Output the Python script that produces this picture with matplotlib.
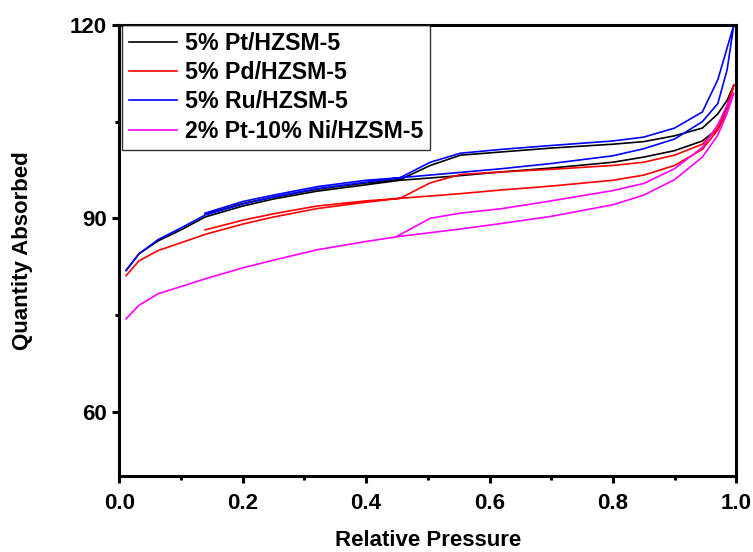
import matplotlib
matplotlib.use("Agg")
import matplotlib.pyplot as plt
from matplotlib.ticker import MultipleLocator

plt.rcParams['font.family'] = ['Liberation Sans', 'DejaVu Sans']
plt.rcParams['font.weight'] = 'bold'

# Relative pressure grids (adsorption up, desorption down)
p_ads = [0.011, 0.032, 0.063, 0.10, 0.139, 0.20, 0.25, 0.32, 0.40, 0.455,
         0.55, 0.62, 0.70, 0.80, 0.85, 0.90, 0.945, 0.97, 0.985, 0.996]
p_des = [0.985, 0.97, 0.945, 0.90, 0.85, 0.80, 0.70, 0.62, 0.553, 0.504,
         0.455, 0.40, 0.32, 0.25, 0.20, 0.139]
p_des_ni = [0.985, 0.97, 0.945, 0.90, 0.85, 0.80, 0.70, 0.62, 0.553, 0.504, 0.45]

labels = ["5% Pt/HZSM-5", "5% Pd/HZSM-5", "5% Ru/HZSM-5", "2% Pt-10% Ni/HZSM-5"]
colors = ["#000000", "#FF0000", "#0000FF", "#FF00FF"]

pt_ads = [81.9, 84.5, 86.5, 88.2, 90.2, 91.9, 93.0, 94.2, 95.2, 95.9,
          96.6, 97.2, 97.8, 98.7, 99.5, 100.5, 102.0, 103.9, 107.3, 110.7]
pt_des = [108.3, 106.2, 104.0, 102.8, 101.9, 101.5, 100.9, 100.3, 99.8, 98.2,
          96.0, 95.5, 94.5, 93.3, 92.3, 90.6]

pd_ads = [81.1, 83.4, 85.0, 86.2, 87.5, 89.1, 90.2, 91.5, 92.5, 93.1,
          93.8, 94.4, 95.0, 95.9, 96.7, 98.2, 100.7, 103.7, 106.5, 110.7]
pd_des = [107.5, 104.0, 101.5, 99.8, 98.7, 98.2, 97.6, 97.2, 96.8, 95.5,
          93.1, 92.7, 91.9, 90.7, 89.7, 88.2]

ru_ads = [81.9, 84.5, 86.7, 88.5, 90.5, 92.2, 93.3, 94.6, 95.6, 96.3,
          97.1, 97.7, 98.5, 99.7, 100.8, 102.3, 105.0, 107.8, 113.0, 120.0]
ru_des = [116.4, 111.5, 106.5, 104.0, 102.6, 102.0, 101.3, 100.7, 100.1, 98.7,
          96.3, 95.9, 94.9, 93.6, 92.6, 90.8]

ni_ads = [74.4, 76.5, 78.3, 79.4, 80.6, 82.3, 83.5, 85.1, 86.4, 87.2,
          88.3, 89.2, 90.3, 92.1, 93.6, 96.0, 99.5, 102.9, 106.3, 109.4]
ni_des = [107.5, 104.5, 101.0, 97.7, 95.4, 94.3, 92.7, 91.5, 90.8, 90.0, 87.2]

series = [
    (p_ads + p_des, pt_ads + pt_des),
    (p_ads + p_des, pd_ads + pd_des),
    (p_ads + p_des, ru_ads + ru_des),
    (p_ads + p_des_ni, ni_ads + ni_des),
]

fig = plt.figure(figsize=(7.53, 5.52), dpi=100)
ax = fig.add_axes([119.3 / 753, 76 / 552, 617 / 753, 451 / 552])

for (xs, ys), lab, c in zip(series, labels, colors):
    ax.plot(xs, ys, color=c, lw=1.2, label=lab)

ax.set_xlim(0, 1.0)
ax.set_ylim(50, 120)
ax.xaxis.set_minor_locator(MultipleLocator(0.1))
ax.yaxis.set_minor_locator(MultipleLocator(15))
ax.set_xticks([0, 0.2, 0.4, 0.6, 0.8, 1.0])
ax.set_xticklabels(["0.0", "0.2", "0.4", "0.6", "0.8", "1.0"])
ax.set_yticks([60, 90, 120])

for s in ax.spines.values():
    s.set_linewidth(2.2)
ax.tick_params(which='major', direction='out', length=5, width=2.2,
               labelsize=16, pad=4)
ax.tick_params(which='minor', direction='out', length=3, width=2.2)
ax.tick_params(axis='x', which='major', pad=7)
for t in ax.get_xticklabels() + ax.get_yticklabels():
    t.set_fontweight('bold')

ax.set_xlabel("Relative Pressure", fontsize=16, fontweight='bold')
ax.set_ylabel("Quantity Absorbed", fontsize=16, fontweight='bold')
ax.xaxis.label.set_va('center')
ax.yaxis.label.set_va('center')
ax.xaxis.set_label_coords(0.5, (476 - 541) / 451.0)
ax.yaxis.set_label_coords((22 - 119.3) / 617.0, 0.5)

leg = ax.legend(loc='upper left', bbox_to_anchor=(0.004, 1.0), borderaxespad=0.0,
                fontsize=16.7, frameon=True, fancybox=False, edgecolor='black',
                handlelength=2.1, handletextpad=0.33, labelspacing=0.27,
                borderpad=0.3)
leg.get_frame().set_linewidth(1.0)
for t in leg.get_texts():
    t.set_fontweight('bold')

fig.savefig("out.png", dpi=100)
